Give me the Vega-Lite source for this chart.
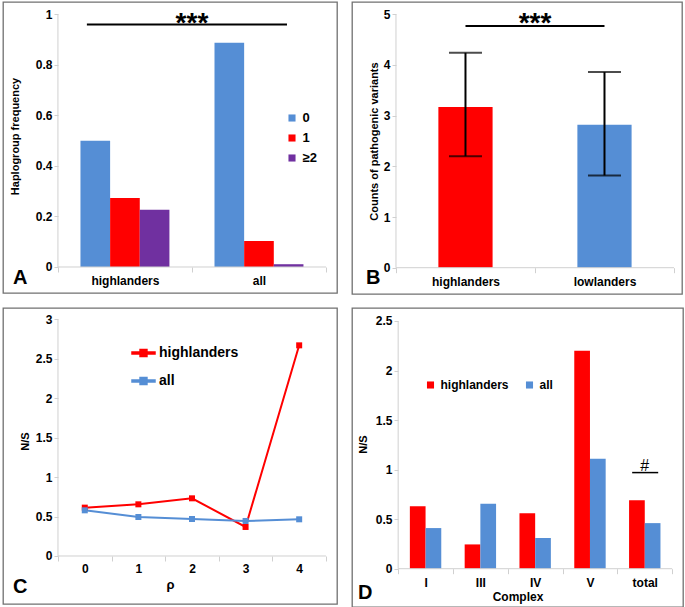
{
  "$schema": "https://vega.github.io/schema/vega-lite/v6.json",
  "background": "white",
  "padding": {"left": 2, "top": 1, "right": 0, "bottom": 0},
  "bounds": "flush",
  "columns": 2,
  "spacing": {"row": 14, "column": 15},
  "resolve": {"scale": {"color": "independent", "x": "independent", "y": "independent", "xOffset": "independent"}, "legend": {"color": "independent"}},
  "config": {
    "font": "Liberation Sans",
    "view": {"stroke": "#707070", "strokeWidth": 1.3},
    "axis": {
      "labelFont": "Liberation Sans", "labelFontWeight": "bold", "labelColor": "black", "labelFontSize": 12,
      "titleFont": "Liberation Sans", "titleFontWeight": "bold", "titleColor": "black", "titleFontSize": 11,
      "domain": false, "tickColor": "#d0d0d0", "grid": false, "tickSize": 4
    },
    "axisX": {"tickBand": "extent", "labelAngle": 0, "tickSize": 5},
    "legend": {"labelFont": "Liberation Sans", "labelFontWeight": "bold", "labelColor": "black", "padding": 0},
    "title": {"font": "Liberation Sans", "fontWeight": "bold", "color": "black", "fontSize": 20}
  },
  "concat": [
    {
      "width": 334, "height": 291,
      "title": {"text": "A", "orient": "bottom", "anchor": "start", "frame": "group", "offset": -25.5, "dx": 10},
      "layer": [
        {
          "data": {"values": [
            {"group": "highlanders", "k": "0", "freq": 0.50},
            {"group": "highlanders", "k": "1", "freq": 0.273},
            {"group": "highlanders", "k": "≥2", "freq": 0.227},
            {"group": "all", "k": "0", "freq": 0.887},
            {"group": "all", "k": "1", "freq": 0.103},
            {"group": "all", "k": "≥2", "freq": 0.011}
          ]},
          "mark": {"type": "bar"},
          "encoding": {
            "x": {"field": "group", "type": "nominal",
              "scale": {"domain": ["highlanders", "all"], "paddingInner": 0, "paddingOuter": 0.246, "align": 0.833},
              "axis": {"offset": -26, "title": null, "labelPadding": 3}},
            "xOffset": {"field": "k", "type": "nominal", "scale": {"domain": ["0", "1", "≥2"], "paddingInner": 0, "paddingOuter": 0.76}},
            "y": {"field": "freq", "type": "quantitative",
              "scale": {"domain": [-0.1029, 1.0487], "nice": false, "zero": false},
              "axis": {"offset": -55, "values": [0, 0.2, 0.4, 0.6, 0.8, 1], "format": "~g", "title": "Haplogroup frequency", "titleX": -38, "titleY": 134}},
            "y2": {"datum": 0},
            "color": {"field": "k", "type": "nominal",
              "scale": {"domain": ["0", "1", "≥2"], "range": ["#558ED5", "#FF0000", "#7030A0"]},
              "legend": {"orient": "none", "legendX": 282.5, "legendY": 109.5, "title": null, "symbolType": "square", "symbolSize": 50, "labelFontSize": 13, "rowPadding": 6, "labelOffset": 4, "symbolStrokeWidth": 0}}
          }
        },
        {
          "data": {"values": [{"a": "highlanders", "b": "all", "v0": 0, "v1": 1}]},
          "mark": {"type": "rule", "strokeWidth": 1, "color": "#d0d0d0"},
          "encoding": {
            "x": {"field": "a", "type": "nominal", "bandPosition": 0},
            "x2": {"field": "b", "bandPosition": 1},
            "y": {"field": "v0", "type": "quantitative"}
          }
        },
        {
          "data": {"values": [{"a": "highlanders", "v0": 0, "v1": 1}]},
          "mark": {"type": "rule", "strokeWidth": 1, "color": "#d0d0d0"},
          "encoding": {
            "x": {"field": "a", "type": "nominal", "bandPosition": 0},
            "y": {"field": "v0", "type": "quantitative"},
            "y2": {"field": "v1"}
          }
        },
        {
          "data": {"values": [{"a": "highlanders", "b": "all", "v": 0.96}]},
          "mark": {"type": "rule", "strokeWidth": 2, "color": "black"},
          "encoding": {
            "x": {"field": "a", "type": "nominal", "bandPosition": 0.216},
            "x2": {"field": "b", "bandPosition": 0.709},
            "y": {"field": "v", "type": "quantitative"}
          }
        },
        {
          "data": {"values": [{"a": "all", "v": 0.93, "t": "***"}]},
          "mark": {"type": "text", "fontSize": 28, "fontWeight": "bold", "baseline": "alphabetic", "align": "center", "color": "black"},
          "encoding": {
            "x": {"field": "a", "type": "nominal", "bandPosition": 0},
            "y": {"field": "v", "type": "quantitative"},
            "text": {"field": "t"}
          }
        }
      ]
    },
    {
      "width": 330, "height": 292,
      "title": {"text": "B", "orient": "bottom", "anchor": "start", "frame": "group", "offset": -26.5, "dx": 14},
      "layer": [
        {
          "data": {"values": [
            {"g": "highlanders", "v": 3.17, "lo": 2.20, "hi": 4.24},
            {"g": "lowlanders", "v": 2.82, "lo": 1.82, "hi": 3.86}
          ]},
          "layer": [
            {
              "mark": {"type": "bar", "width": {"band": 0.39}},
              "encoding": {
                "x": {"field": "g", "type": "nominal",
                  "scale": {"domain": ["highlanders", "lowlanders"], "paddingInner": 0, "paddingOuter": 0.187, "align": 0.846},
                  "axis": {"offset": -26.3, "title": null, "labelPadding": 4}},
                "y": {"field": "v", "type": "quantitative",
                  "scale": {"domain": [-0.519, 5.2427], "nice": false, "zero": false},
                  "axis": {"offset": -44, "values": [0, 1, 2, 3, 4, 5], "title": "Counts of pathogenic variants", "titleX": -17, "titleY": 139}},
                "y2": {"datum": 0},
                "color": {"field": "g", "type": "nominal", "scale": {"domain": ["highlanders", "lowlanders"], "range": ["#FF0000", "#558ED5"]}, "legend": null}
              }
            },
            {
              "mark": {"type": "rule", "strokeWidth": 2, "color": "black"},
              "encoding": {
                "x": {"field": "g", "type": "nominal"},
                "y": {"field": "lo", "type": "quantitative"},
                "y2": {"field": "hi"}
              }
            },
            {
              "mark": {"type": "tick", "size": 33, "thickness": 2, "color": "black", "orient": "horizontal"},
              "encoding": {
                "x": {"field": "g", "type": "nominal"},
                "y": {"field": "lo", "type": "quantitative"}
              }
            },
            {
              "mark": {"type": "tick", "size": 33, "thickness": 2, "color": "black", "orient": "horizontal"},
              "encoding": {
                "x": {"field": "g", "type": "nominal"},
                "y": {"field": "hi", "type": "quantitative"}
              }
            }
          ]
        },
        {
          "data": {"values": [{"a": "highlanders", "b": "lowlanders", "v0": 0, "v1": 5}]},
          "mark": {"type": "rule", "strokeWidth": 1, "color": "#d0d0d0"},
          "encoding": {
            "x": {"field": "a", "type": "nominal", "bandPosition": 0},
            "x2": {"field": "b", "bandPosition": 1},
            "y": {"field": "v0", "type": "quantitative"}
          }
        },
        {
          "data": {"values": [{"a": "highlanders", "v0": 0, "v1": 5}]},
          "mark": {"type": "rule", "strokeWidth": 1, "color": "#d0d0d0"},
          "encoding": {
            "x": {"field": "a", "type": "nominal", "bandPosition": 0},
            "y": {"field": "v0", "type": "quantitative"},
            "y2": {"field": "v1"}
          }
        },
        {
          "data": {"values": [{"a": "highlanders", "b": "lowlanders", "v": 4.77}]},
          "mark": {"type": "rule", "strokeWidth": 2, "color": "black"},
          "encoding": {
            "x": {"field": "a", "type": "nominal", "bandPosition": 0.5},
            "x2": {"field": "b", "bandPosition": 0.5},
            "y": {"field": "v", "type": "quantitative"}
          }
        },
        {
          "data": {"values": [{"a": "highlanders", "v": 4.65, "t": "***"}]},
          "mark": {"type": "text", "fontSize": 28, "fontWeight": "bold", "baseline": "alphabetic", "align": "center", "color": "black"},
          "encoding": {
            "x": {"field": "a", "type": "nominal", "bandPosition": 1},
            "y": {"field": "v", "type": "quantitative"},
            "text": {"field": "t"}
          }
        }
      ]
    },
    {
      "width": 334, "height": 296,
      "title": {"text": "C", "orient": "bottom", "anchor": "start", "frame": "group", "offset": -27.5, "dx": 10},
      "layer": [
        {
          "data": {"values": [
            {"r": "0", "s": "highlanders", "v": 0.613},
            {"r": "1", "s": "highlanders", "v": 0.655},
            {"r": "2", "s": "highlanders", "v": 0.731},
            {"r": "3", "s": "highlanders", "v": 0.368},
            {"r": "4", "s": "highlanders", "v": 2.67},
            {"r": "0", "s": "all", "v": 0.579},
            {"r": "1", "s": "all", "v": 0.494},
            {"r": "2", "s": "all", "v": 0.469},
            {"r": "3", "s": "all", "v": 0.444},
            {"r": "4", "s": "all", "v": 0.465}
          ]},
          "mark": {"type": "line", "strokeWidth": 2, "point": {"shape": "square", "size": 36, "filled": true}},
          "encoding": {
            "x": {"field": "r", "type": "nominal",
              "scale": {"domain": ["0", "1", "2", "3", "4"], "paddingInner": 0, "paddingOuter": 0.6157, "align": 0.833},
              "axis": {"offset": -48, "title": "ρ", "titleFontSize": 13, "labelPadding": 2, "titlePadding": 4}},
            "y": {"field": "v", "type": "quantitative",
              "scale": {"domain": [-0.6084, 3.1432], "nice": false, "zero": false},
              "axis": {"offset": -55, "values": [0, 0.5, 1, 1.5, 2, 2.5, 3], "format": "~g", "title": "N/S", "titleX": -28, "titleY": 133}},
            "color": {"field": "s", "type": "nominal",
              "scale": {"domain": ["highlanders", "all"], "range": ["#FF0000", "#558ED5"]},
              "legend": {"orient": "none", "legendX": 128, "legendY": 32.5, "title": null,
                "symbolType": "M-1,-0.087H1V0.087H-1Z M-0.3,-0.3H0.3V0.3H-0.3Z", "symbolSize": 529,
                "labelFontSize": 14, "rowPadding": 8, "labelOffset": 3,
                "encode": {"symbols": {"update": {"fill": {"scale": "color", "field": "value"}, "stroke": {"value": "transparent"}, "opacity": {"value": 1}}}}}}
          }
        },
        {
          "data": {"values": [{"a": "0", "b": "4", "v0": 0, "v1": 3}]},
          "mark": {"type": "rule", "strokeWidth": 1, "color": "#d0d0d0"},
          "encoding": {
            "x": {"field": "a", "type": "nominal", "bandPosition": 0},
            "x2": {"field": "b", "bandPosition": 1},
            "y": {"field": "v0", "type": "quantitative"}
          }
        },
        {
          "data": {"values": [{"a": "0", "v0": 0, "v1": 3}]},
          "mark": {"type": "rule", "strokeWidth": 1, "color": "#d0d0d0"},
          "encoding": {
            "x": {"field": "a", "type": "nominal", "bandPosition": 0},
            "y": {"field": "v0", "type": "quantitative"},
            "y2": {"field": "v1"}
          }
        }
      ]
    },
    {
      "width": 331, "height": 299,
      "title": {"text": "D", "orient": "bottom", "anchor": "start", "frame": "group", "offset": -24.5, "dx": 6},
      "layer": [
        {
          "data": {"values": [
            {"c": "I", "s": "highlanders", "v": 0.63},
            {"c": "I", "s": "all", "v": 0.41},
            {"c": "III", "s": "highlanders", "v": 0.245},
            {"c": "III", "s": "all", "v": 0.655},
            {"c": "IV", "s": "highlanders", "v": 0.56},
            {"c": "IV", "s": "all", "v": 0.31},
            {"c": "V", "s": "highlanders", "v": 2.2},
            {"c": "V", "s": "all", "v": 1.11},
            {"c": "total", "s": "highlanders", "v": 0.69},
            {"c": "total", "s": "all", "v": 0.46}
          ]},
          "mark": {"type": "bar"},
          "encoding": {
            "x": {"field": "c", "type": "nominal",
              "scale": {"domain": ["I", "III", "IV", "V", "total"], "paddingInner": 0, "paddingOuter": 0.52, "align": 0.81},
              "axis": {"offset": -38.3, "title": "Complex", "titleFontSize": 12, "labelPadding": 4, "titlePadding": 3}},
            "xOffset": {"field": "s", "type": "nominal", "scale": {"domain": ["highlanders", "all"], "paddingInner": 0, "paddingOuter": 0.745}},
            "y": {"field": "v", "type": "quantitative",
              "scale": {"domain": [-0.3866, 2.6312], "nice": false, "zero": false},
              "axis": {"offset": -46, "values": [0, 0.5, 1, 1.5, 2, 2.5], "format": "~g", "title": "N/S", "titleX": -30, "titleY": 136}},
            "y2": {"datum": 0},
            "color": {"field": "s", "type": "nominal",
              "scale": {"domain": ["highlanders", "all"], "range": ["#FF0000", "#558ED5"]},
              "legend": {"orient": "none", "direction": "horizontal", "legendX": 72.5, "legendY": 71, "title": null, "symbolType": "square", "symbolSize": 50, "labelFontSize": 12, "columnPadding": 14, "labelOffset": 4, "symbolStrokeWidth": 0}}
          }
        },
        {
          "data": {"values": [{"a": "I", "b": "total", "v0": 0, "v1": 2.5}]},
          "mark": {"type": "rule", "strokeWidth": 1, "color": "#d0d0d0"},
          "encoding": {
            "x": {"field": "a", "type": "nominal", "bandPosition": 0},
            "x2": {"field": "b", "bandPosition": 1},
            "y": {"field": "v0", "type": "quantitative"}
          }
        },
        {
          "data": {"values": [{"a": "I", "v0": 0, "v1": 2.5}]},
          "mark": {"type": "rule", "strokeWidth": 1, "color": "#d0d0d0"},
          "encoding": {
            "x": {"field": "a", "type": "nominal", "bandPosition": 0},
            "y": {"field": "v0", "type": "quantitative"},
            "y2": {"field": "v1"}
          }
        },
        {
          "data": {"values": [{"c": "total", "v": 0.97}]},
          "mark": {"type": "rule", "strokeWidth": 1.5, "color": "black"},
          "encoding": {
            "x": {"field": "c", "type": "nominal", "bandPosition": 0.27},
            "x2": {"field": "c", "bandPosition": 0.745},
            "y": {"field": "v", "type": "quantitative"}
          }
        },
        {
          "data": {"values": [{"c": "total", "v": 0.985, "t": "#"}]},
          "mark": {"type": "text", "fontSize": 16, "baseline": "alphabetic", "align": "center", "color": "black"},
          "encoding": {
            "x": {"field": "c", "type": "nominal", "bandPosition": 0.5},
            "y": {"field": "v", "type": "quantitative"},
            "text": {"field": "t"}
          }
        }
      ]
    }
  ]
}
